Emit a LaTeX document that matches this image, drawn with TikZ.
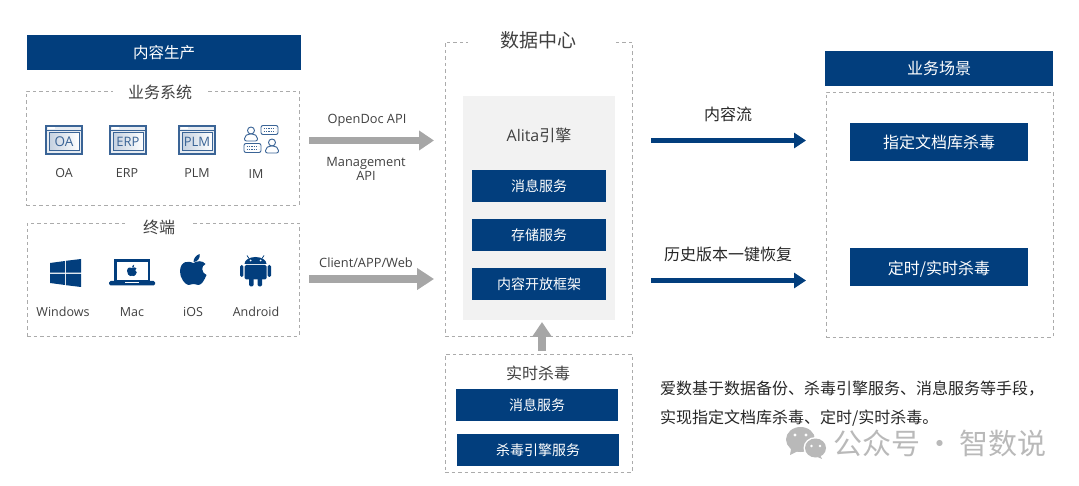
\documentclass[tikz,border=0pt]{standalone}
\usepackage{fontspec}
\setmainfont{Open Sans}
\newfontfamily\cjk{Noto Sans CJK SC}
\usetikzlibrary{arrows.meta,positioning,calc}
\definecolor{DeepBlue}{HTML}{023E7D}
\definecolor{IconBlue}{HTML}{3A6496}
\definecolor{DashGray}{HTML}{ABABAB}
\definecolor{ArrowGray}{HTML}{A6A6A6}
\definecolor{PanelGray}{HTML}{F2F2F2}
\definecolor{TextDark}{HTML}{404040}
\definecolor{TextBlack}{HTML}{262626}
\definecolor{MarkGray}{HTML}{B9B9B9}
\newcommand{\zhfont}[1]{\cjk\fontsize{#1}{#1}\selectfont}
\newcommand{\enfont}[1]{\fontsize{#1}{#1}\selectfont}
\tikzset{
  winicon/.pic={
    \draw[IconBlue,line width=1.1pt,fill=IconBlue!12] (-18,-14) rectangle (18,14);
    \draw[IconBlue,line width=.8pt] (-18,-10) -- (18,-10);
    \draw[IconBlue,line width=1pt,left color=IconBlue!30,right color=white] (-15,-7.5) rectangle (15,11);
    \fill[white] (-16.5,-12.6) rectangle (-9,-11.4);
    \node[text=IconBlue] (-name) at (0,1.7) {#1};
  },
  usericon/.pic={
    \draw[IconBlue,line width=.9pt] (0,-3.5) circle (3.5);
    \draw[IconBlue,line width=.9pt,rounded corners=2pt] (-6.5,7) -- (-6.5,2.5) -- (-3,0) -- (3,0) -- (6.5,2.5) -- (6.5,7) -- cycle;
  },
  keyicon/.pic={
    \draw[IconBlue,line width=.9pt,rounded corners=2pt] (-8.5,-4.5) rectangle (8.5,4.5);
    \draw[IconBlue,line width=1.4pt,dash pattern=on 1.2pt off 1.2pt] (-6,-1.5) -- (6,-1.5);
    \draw[IconBlue,line width=1.4pt,dash pattern=on 1.2pt off 1.2pt] (-6,1.5) -- (6,1.5);
  },
  applelogo/.pic={
    \fill[DeepBlue] (0,-7) .. controls (-4,-9) and (-13,-10) .. (-13.5,1) .. controls (-14,8) and (-8,15) .. (-5,15) .. controls (-3,15) and (-2,14) .. (0,14) .. controls (2,14) and (3,15) .. (5,15) .. controls (8,15) and (11,10) .. (13,5) .. controls (8,3) and (7,-4) .. (12,-6) .. controls (9,-10) and (3,-9) .. (0,-7) -- cycle;
    \fill[DeepBlue] (0,-8) .. controls (0,-12) and (3,-15) .. (6,-16) .. controls (7,-12) and (4,-8) .. (0,-8) -- cycle;
  },
}
\begin{document}
\begin{tikzpicture}[
    x=1pt,y=-1pt,
    every node/.style={inner sep=0pt,text=TextDark},
    headbox/.style={fill=DeepBlue,text=white,font=\zhfont{15.5}},
    blockbox/.style={fill=DeepBlue,text=white,minimum height=32pt,font=\zhfont{14}},
    enginebox/.style={blockbox,minimum width=134pt,text height=11.6pt,text depth=0pt},
    alertbox/.style={fill=DeepBlue,text=white,minimum width=178pt,minimum height=38pt,font=\zhfont{16},text depth=0pt},
    dashbox/.style={draw=DashGray,dash pattern=on 3.5pt off 3pt,line width=.9pt},
    grouptitle/.style={fill=white,font=\zhfont{16}},
    applabel/.style={font=\enfont{12.5},text height=10pt,text depth=3pt},
    apilabel/.style={font=\enfont{12.8},align=center},
    zhlabel/.style={font=\zhfont{16},text=TextBlack},
    fatarr/.style={-{Triangle[length=15pt,width=19pt]},ArrowGray,line width=7.5pt},
    bluearr/.style={-{Triangle[length=12pt,width=15pt]},DeepBlue,line width=5.5pt}
  ]
  \useasboundingbox (0,0) rectangle (1079,486);
  \node[headbox,minimum width=274pt,minimum height=35pt] (produce) at (164,52.5) {内容生产};
  \node[dashbox,minimum width=273pt,minimum height=114pt] (bizbox) at (162.5,148) {};
  \node[grouptitle,minimum width=95pt] (biztitle) at (160,92.5) {业务系统};
  \node[dashbox,minimum width=272pt,minimum height=113pt] (termbox) at (163,279.5) {};
  \node[grouptitle,minimum width=67pt] (termtitle) at (159,227) {终端};

  \pic (oaicon) at (64,140) {winicon={\enfont{13.5}OA}};
  \pic (erpicon) at (128,140) {winicon={\enfont{13}ERP}};
  \pic (plmicon) at (197,140) {winicon={\enfont{13}PLM}};
  \pic (imuserA) at (251,134) {usericon};
  \pic (imkeyA) at (269.5,130) {keyicon};
  \pic (imkeyB) at (252.5,148) {keyicon};
  \pic (imuserB) at (272,146) {usericon};
  \node[applabel] (oalabel) at (64,174.5) {OA};
  \node[applabel] (erplabel) at (127,174.5) {ERP};
  \node[applabel] (plmlabel) at (197,174.5) {PLM};
  \node[applabel] (imlabel) at (256,175.5) {IM};

  \fill[DeepBlue] (50,263) -- (65,261) -- (65,272.6) -- (50,272.6) -- cycle;
  \fill[DeepBlue] (66,260.8) -- (81,259) -- (81,272.6) -- (66,272.6) -- cycle;
  \fill[DeepBlue] (50,273.8) -- (65,273.8) -- (65,285) -- (50,283) -- cycle;
  \fill[DeepBlue] (66,273.8) -- (81,273.8) -- (81,287) -- (66,285.2) -- cycle;
  \draw[DeepBlue,line width=2.4pt] (115.5,260.5) rectangle (149,281.5);
  \fill[DeepBlue,rounded corners=1.5pt] (109,281) -- (155,281) -- (155,285.5) -- (109,285.5) -- cycle;
  \fill[white] (125,282) rectangle (139,283.2);
  \pic[scale=.37] at (132,270.5) {applelogo};
  \pic at (193.5,270) {applelogo};
  \fill[DeepBlue] (244.5,264) arc[start angle=180,end angle=360,x radius=11,y radius=7] -- cycle;
  \draw[DeepBlue,line width=.8pt] (249,258.5) -- (247,255.5) (262,258.5) -- (264,255.5);
  \fill[white] (250.5,260.5) circle (1) (260.5,260.5) circle (1);
  \fill[DeepBlue,rounded corners=1.5pt] (244.5,265) -- (266.5,265) -- (266.5,279.5) -- (244.5,279.5) -- cycle;
  \fill[DeepBlue,rounded corners=1.5pt] (240,265) rectangle (243.3,277);
  \fill[DeepBlue,rounded corners=1.5pt] (267.7,265) rectangle (271,277);
  \fill[DeepBlue,rounded corners=1.5pt] (249,277) rectangle (253.5,286.5);
  \fill[DeepBlue,rounded corners=1.5pt] (257.5,277) rectangle (262,286.5);
  \node[applabel] (winlabel) at (63,313.5) {Windows};
  \node[applabel] (maclabel) at (132,313.5) {Mac};
  \node[applabel] (ioslabel) at (193,313.5) {iOS};
  \node[applabel] (andlabel) at (256,313.5) {Android};

  \node[dashbox,minimum width=187pt,minimum height=294pt] (center) at (538.5,189) {};
  \node[grouptitle,minimum width=145pt,font=\zhfont{19}] (centertitle) at (540.5,40.5) {数据中心\kern5pt};
  \node[fill=PanelGray,minimum width=152pt,minimum height=224pt] (engine) at (539,208) {};
  \node[font=\enfont{16}] (alita) at (539,135.5) {Alita{\cjk 引擎}};
  \node[enginebox] (msgsvc) at (539,186) {消息服务};
  \node[enginebox] (storesvc) at (539,235) {存储服务};
  \node[enginebox] (opensvc) at (539,284) {内容开放框架};

  \node[dashbox,minimum width=187pt,minimum height=118pt] (realtime) at (538.5,413) {};
  \node[grouptitle,fill=none] (realtitle) at (538,373.5) {实时杀毒};
  \node[blockbox,minimum width=162pt] (rtmsg) at (537,405) {消息服务};
  \node[blockbox,minimum width=162pt] (rtav) at (538,450) {杀毒引擎服务};

  \node[headbox,minimum width=228pt,minimum height=35pt,font=\zhfont{16}] (scene) at (939,68.5) {业务场景};
  \node[dashbox,minimum width=227pt,minimum height=245pt] (scenebox) at (939.5,214.5) {};
  \node[alertbox,text height=13.6pt] (libav) at (939,142) {指定文档库杀毒};
  \node[alertbox,text height=16pt] (timeav) at (939,267) {定时/实时杀毒};

  \coordinate (apiA) at (309,140.5);
  \coordinate (apiB) at (434,140.5);
  \coordinate (cliA) at (309,279);
  \coordinate (cliB) at (434,279);
  \coordinate (rtA) at (542,351);
  \coordinate (rtB) at (542,322);
  \coordinate (flowA) at (651,140.5);
  \coordinate (flowB) at (806,140.5);
  \coordinate (histA) at (651,280.5);
  \coordinate (histB) at (806,280.5);
  \draw[fatarr] (apiA) -- (apiB);
  \draw[fatarr,line width=8pt,-{Triangle[length=17pt,width=21pt]}] (cliA) -- (cliB);
  \draw[fatarr] (rtA) -- (rtB);
  \draw[bluearr] (flowA) -- (flowB);
  \draw[bluearr] (histA) -- (histB);
  \node[apilabel] (apilabel) at (367,120.5) {OpenDoc API};
  \node[apilabel] (mgmtlabel) at (366,169) {Management\\[1pt]API};
  \node[apilabel] (clilabel) at (366,262.5) {Client/APP/Web};
  \node[zhlabel] (flowlabel) at (728,114) {内容流};
  \node[zhlabel] (histlabel) at (728,254) {历史版本一键恢复};

  \node[zhlabel,anchor=west] (noteA) at (660,389) {爱数基于数据备份、杀毒引擎服务、消息服务等手段，};
  \node[zhlabel,anchor=west] (noteB) at (660,418) {实现指定文档库杀毒、定时/实时杀毒。};

  \fill[MarkGray] (800.5,439.5) ellipse (14.5 and 12.5);
  \fill[MarkGray] (791,449) -- (790,455) -- (798,451) -- cycle;
  \fill[white] (815.5,448) ellipse (12 and 11);
  \fill[MarkGray] (815.5,448) ellipse (10.5 and 9.5);
  \fill[MarkGray] (820,455) -- (822,459) -- (815,456) -- cycle;
  \fill[white] (795,435) circle (1.7) (806,435) circle (1.7) (811.5,446) circle (1.3) (820,446) circle (1.3);
  \node[anchor=west,text=MarkGray,font=\zhfont{29}] (mark) at (833,443) {公众号\kern 5pt·\kern 5pt智数说};
\end{tikzpicture}
\end{document}
